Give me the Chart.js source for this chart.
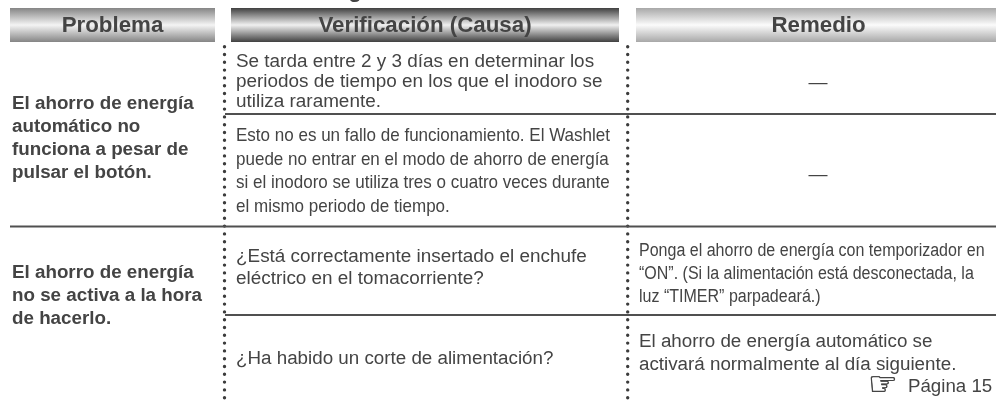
<!DOCTYPE html>
<html lang="es">
<head>
<meta charset="UTF-8">
<title>Problema / Verificación / Remedio</title>
<script src="https://cdn.jsdelivr.net/npm/chart.js@4"></script>
<style>
  html, body { margin: 0; padding: 0; background: #fff; overflow: hidden; }
  #table { display: block; }
</style>
</head>
<body>
<canvas id="table" width="996" height="401" role="img" aria-label="Tabla de problemas, causas y remedios"></canvas>
<script>
// table content
const headers = ['Problema', 'Verificación (Causa)', 'Remedio'];
const problem1 = ['El ahorro de energía', 'automático no', 'funciona a pesar de', 'pulsar el botón.'];
const problem2 = ['El ahorro de energía', 'no se activa a la hora', 'de hacerlo.'];
const cause1 = ['Se tarda entre 2 y 3 días en determinar los', 'periodos de tiempo en los que el inodoro se', 'utiliza raramente.'];
const cause2 = ['Esto no es un fallo de funcionamiento. El Washlet', 'puede no entrar en el modo de ahorro de energía', 'si el inodoro se utiliza tres o cuatro veces durante', 'el mismo periodo de tiempo.'];
const cause3 = ['¿Está correctamente insertado el enchufe', 'eléctrico en el tomacorriente?'];
const cause4 = ['¿Ha habido un corte de alimentación?'];
const remedy1 = ['—'];
const remedy2 = ['—'];
const remedy3 = ['Ponga el ahorro de energía con temporizador en', '“ON”. (Si la alimentación está desconectada, la', 'luz “TIMER” parpadeará.)'];
const remedy4 = ['El ahorro de energía automático se', 'activará normalmente al día siguiente.'];
const pageRef = ['Página 15'];

// layout, in page units of the hidden x/y scales
const headerFrom = [10, 231, 636];
const headerTo = [215, 619, 996];
const headerMid = [112.5, 425, 818.5];
const headerDark = ['#858585', '#404040', '#a8a8a8'];
const headerLight = ['#f4f4f4', '#f0f0f0', '#fbfbfb'];
const ruleFrom = [10, 225, 225];
const ruleTo = [996, 996, 996];
const ruleAt = [226.5, 114, 315];
const dotColumns = [224.5, 627.7];

const FONT = '"Liberation Sans", Arial, sans-serif';
const INK = '#444444';

const blocks = [
  { lines: problem1, x: 12, y: 108.5, lh: 23.2, font: 'bold 18.8px ' + FONT },
  { lines: problem2, x: 12, y: 278.3, lh: 22.6, font: 'bold 18.8px ' + FONT },
  { lines: cause1, x: 236, y: 66.5, lh: 20.3, font: '18.9px ' + FONT },
  { lines: cause2, x: 236, y: 141.3, lh: 23.5, font: '18.5px ' + FONT, squeeze: 0.92 },
  { lines: cause3, x: 236, y: 262, lh: 22, font: '18.9px ' + FONT },
  { lines: cause4, x: 236, y: 364, lh: 22, font: '18.8px ' + FONT },
  { lines: remedy1, x: 818, y: 88, lh: 0, font: '19px ' + FONT, align: 'center' },
  { lines: remedy2, x: 818, y: 180, lh: 0, font: '19px ' + FONT, align: 'center' },
  { lines: remedy3, x: 639, y: 256, lh: 22.8, font: '18px ' + FONT, squeeze: 0.89 },
  { lines: remedy4, x: 639, y: 346.7, lh: 23.3, font: '18.8px ' + FONT },
  { lines: pageRef, x: 908, y: 391.7, lh: 0, font: '18.7px ' + FONT }
];

// header gradient has to be built from the scale, so it follows the y axis
function headerGradient(i) {
  return function (ctx) {
    const chart = ctx.chart;
    if (!chart.chartArea) return headerDark[i];
    const y = chart.scales.y;
    const g = chart.ctx.createLinearGradient(0, y.getPixelForValue(8), 0, y.getPixelForValue(42));
    g.addColorStop(0, headerDark[i]);
    g.addColorStop(0.5, headerLight[i]);
    g.addColorStop(1, headerDark[i]);
    return g;
  };
}

const datasets = [];
headers.forEach(function (h, i) {
  datasets.push({
    data: [{ x: headerFrom[i], y: 25 }, { x: headerTo[i], y: 25 }],
    borderColor: headerGradient(i),
    borderWidth: 34,
    borderCapStyle: 'butt',
    pointRadius: 0,
    showLine: true
  });
});
ruleAt.forEach(function (y, i) {
  datasets.push({
    data: [{ x: ruleFrom[i], y: y }, { x: ruleTo[i], y: y }],
    borderColor: '#505050',
    borderWidth: 2,
    pointRadius: 0,
    showLine: true
  });
});
dotColumns.forEach(function (x) {
  datasets.push({
    data: [{ x: x, y: 46.7 }, { x: x, y: 401 }],
    borderColor: '#3c3c3c',
    borderWidth: 3.4,
    borderCapStyle: 'round',
    borderDash: [0, 7.8],
    pointRadius: 0,
    showLine: true
  });
});

const tableText = {
  id: 'tableText',
  afterDatasetsDraw: function (chart) {
    const c = chart.ctx;
    const sx = chart.scales.x;
    const sy = chart.scales.y;
    c.save();
    c.textBaseline = 'alphabetic';
    c.fillStyle = INK;

    // cropped descender of the page title above the table
    c.font = 'bold 22.3px ' + FONT;
    c.textAlign = 'center';
    c.fillText('g', sx.getPixelForValue(355), sy.getPixelForValue(-3));

    headers.forEach(function (h, i) {
      c.fillText(h, sx.getPixelForValue(headerMid[i]), sy.getPixelForValue(32));
    });

    blocks.forEach(function (b) {
      c.font = b.font;
      c.textAlign = b.align || 'left';
      b.lines.forEach(function (line, i) {
        const px = sx.getPixelForValue(b.x);
        const py = sy.getPixelForValue(b.y + i * b.lh);
        if (b.squeeze) {
          c.fillText(line, px, py, c.measureText(line).width * b.squeeze);
        } else {
          c.fillText(line, px, py);
        }
      });
    });

    // the pointing hand before the page reference
    c.font = '33px "DejaVu Sans"';
    c.textAlign = 'left';
    c.strokeStyle = INK;
    c.lineWidth = 0.6;
    const hx = sx.getPixelForValue(868);
    const hy = sy.getPixelForValue(395);
    c.fillText('☞', hx, hy);
    c.strokeText('☞', hx, hy);
    c.restore();
  }
};

new Chart(document.getElementById('table'), {
  type: 'scatter',
  data: { datasets: datasets },
  options: {
    responsive: false,
    animation: false,
    layout: { padding: 0 },
    plugins: { legend: { display: false }, tooltip: { enabled: false } },
    scales: {
      x: { type: 'linear', min: 0, max: 996, display: false },
      y: { type: 'linear', min: 0, max: 401, reverse: true, display: false }
    }
  },
  plugins: [tableText]
});
</script>
</body>
</html>
